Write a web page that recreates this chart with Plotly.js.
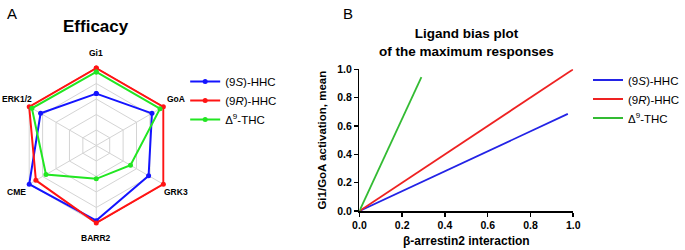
<!DOCTYPE html>
<html>
<head>
<meta charset="utf-8">
<script src="https://cdn.plot.ly/plotly-3.0.1.min.js"></script>
<style>html,body{margin:0;padding:0;background:#fff;}#chart{width:685px;height:250px;}</style>
</head>
<body>
<div id="chart"></div>
<script>
// Panel A: radar (efficacy)
const radarCategories = ["Gi1", "GoA", "GRK3", "BARR2", "CME", "ERK1/2"];
const radar9S = [0.67, 0.83, 0.78, 0.97, 1.0, 0.83];
const radar9R = [1.0, 1.0, 1.0, 1.0, 0.9, 1.0];
const radarTHC = [0.95, 0.95, 0.51, 0.43, 0.75, 0.96];

// Panel B: ligand bias plot (start and end points)
const biasX9S = [0, 0.975];
const biasY9S = [0, 0.685];
const biasX9R = [0, 1.0];
const biasY9R = [0, 1.0];
const biasXTHC = [0, 0.29];
const biasYTHC = [0, 0.944];

const seriesNames = ["(9<i>S</i>)-HHC", "(9<i>R</i>)-HHC", "Δ<sup>9</sup>-THC"];
const xTicks = [0, 0.2, 0.4, 0.6, 0.8, 1.0];
const yTicks = [0, 0.2, 0.4, 0.6, 0.8, 1.0];

const FONT = "Arial, 'Liberation Sans', sans-serif";
const colA = ["#1414ff", "#ff1414", "#22e622"];
const colB = ["#2323e6", "#ee2222", "#33bb33"];

function closeLoop(a) { return a.concat([a[0]]); }

const radarSeries = [radar9S, radar9R, radarTHC];
const traces = [];
radarSeries.forEach((r, i) => {
  traces.push({
    type: "scatterpolar",
    r: closeLoop(r),
    theta: closeLoop(radarCategories),
    mode: "lines+markers",
    name: seriesNames[i],
    line: {color: colA[i], width: 2},
    marker: {color: colA[i], size: 5},
    cliponaxis: false,
    legend: "legend",
    subplot: "polar"
  });
});
const bx = [biasX9S, biasX9R, biasXTHC];
const by = [biasY9S, biasY9R, biasYTHC];
bx.forEach((x, i) => {
  traces.push({
    type: "scatter",
    x: x, y: by[i],
    mode: "lines",
    name: seriesNames[i],
    line: {color: colB[i], width: 1.8},
    legend: "legend2",
    xaxis: "x", yaxis: "y"
  });
});

const W = 685, H = 250;
// radar geometry (pixels)
const cx = 96.7, cyTop = 145.5, rOne = 77.8, rMax = 1.02;
const rDom = rOne * rMax;

// category labels placed around the radar
const labelR = 92.5;
const catAnn = radarCategories.map((c, i) => {
  const ang = Math.PI / 2 - i * 2 * Math.PI / radarCategories.length;
  const px = cx + labelR * Math.cos(ang);
  const py = cyTop - labelR * Math.sin(ang);
  return {text: c, x: Math.max(px, 15.5) / W, y: 1 - py / H, xref: "paper", yref: "paper",
          xanchor: "center", yanchor: "middle", showarrow: false,
          font: {size: 8.5, family: FONT, weight: 700, color: "#000"}};
});

const layout = {
  width: W, height: H,
  margin: {l: 0, r: 0, t: 0, b: 0},
  paper_bgcolor: "#fff",
  plot_bgcolor: "#fff",
  font: {family: FONT, color: "#000"},
  showlegend: true,
  polar: {
    domain: {x: [(cx - rDom) / W, (cx + rDom) / W], y: [1 - (cyTop + rDom) / H, 1 - (cyTop - rDom) / H]},
    gridshape: "linear",
    bgcolor: "#fff",
    radialaxis: {range: [0, rMax], tickmode: "array", tickvals: [0.2, 0.4, 0.6, 0.8, 1.0],
                 showticklabels: false, ticks: "", showline: false,
                 gridcolor: "#d4d4d4", gridwidth: 1},
    angularaxis: {rotation: 90, direction: "clockwise", gridcolor: "#d4d4d4", showline: false,
                  ticks: "", showticklabels: false}
  },
  xaxis: {
    domain: [361 / W, 575.7 / W], range: [0, 1], anchor: "y",
    showgrid: false, zeroline: false, showline: true, linecolor: "#000", linewidth: 1.5,
    ticks: "outside", ticklen: 4, tickwidth: 1.5, tickcolor: "#000",
    tickmode: "array", tickvals: xTicks, ticktext: xTicks.map(v => v.toFixed(1)),
    tickfont: {size: 10.5, family: FONT, weight: 700},
    title: {text: "β-arrestin2 interaction", font: {size: 12, family: FONT, weight: 700}, standoff: 6}
  },
  yaxis: {
    domain: [39 / H, 180.7 / H], range: [0, 1], anchor: "x",
    showgrid: false, zeroline: false, showline: true, linecolor: "#000", linewidth: 1.5,
    ticks: "outside", ticklen: 4, tickwidth: 1.5, tickcolor: "#000",
    tickmode: "array", tickvals: yTicks, ticktext: yTicks.map(v => v.toFixed(1)),
    tickfont: {size: 10.5, family: FONT, weight: 700},
    title: {text: "Gi1/GoA activation, mean", font: {size: 11.5, family: FONT, weight: 700}, standoff: 8}
  },
  legend: {
    x: 186 / W, y: 1 - 67 / H, xanchor: "left", yanchor: "top",
    bgcolor: "rgba(0,0,0,0)", font: {size: 11.5, family: FONT}, tracegroupgap: 0
  },
  legend2: {
    x: 591 / W, y: 1 - 65.5 / H, xanchor: "left", yanchor: "top",
    bgcolor: "rgba(0,0,0,0)", font: {size: 11.5, family: FONT}, tracegroupgap: 0
  },
  annotations: [
    {text: "A", x: 5 / W, y: 1 - 3 / H, xref: "paper", yref: "paper", xanchor: "left", yanchor: "top",
     showarrow: false, font: {size: 15, family: FONT}},
    {text: "B", x: 343 / W, y: 1 - 3 / H, xref: "paper", yref: "paper", xanchor: "left", yanchor: "top",
     showarrow: false, font: {size: 15, family: FONT}},
    {text: "Efficacy", x: cx / W, y: 1 - 14.5 / H, xref: "paper", yref: "paper", xanchor: "center", yanchor: "top",
     showarrow: false, font: {size: 17, family: FONT, weight: 700}},
    {text: "Ligand bias plot<br>of the maximum responses", x: 469 / W, y: 1 - 24 / H, xref: "paper", yref: "paper",
     xanchor: "center", yanchor: "top", align: "center",
     showarrow: false, font: {size: 13.5, family: FONT, weight: 700}}
  ].concat(catAnn)
};

Plotly.newPlot("chart", traces, layout, {staticPlot: true, displayModeBar: false});
</script>
</body>
</html>
